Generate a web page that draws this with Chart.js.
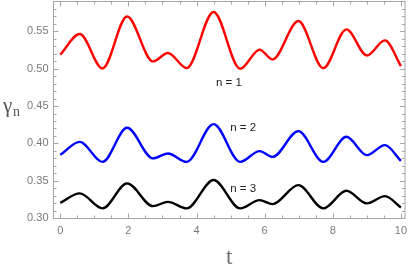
<!DOCTYPE html>
<html>
<head>
<meta charset="utf-8">
<script src="https://cdn.jsdelivr.net/npm/chart.js@4/dist/chart.umd.min.js"></script>
<style>
  html, body { margin: 0; padding: 0; background: #fff; }
  #wrap { width: 409px; height: 273px; position: relative; }
</style>
</head>
<body>
<div id="wrap"><canvas id="gamma-chart"></canvas></div>
<script>
// time knots (near the extrema of the curves)
const tValues = [0, 0.57, 1.24, 1.96, 2.72, 3.16, 3.71, 4.50, 5.28, 5.85, 6.23, 6.99, 7.72, 8.40, 9.00, 9.53, 10];

const gammaN1 = [0.5188, 0.5464, 0.5004, 0.5700, 0.5098, 0.5210, 0.5008, 0.5760, 0.5000, 0.5255, 0.5125, 0.5638, 0.5008, 0.5527, 0.5178, 0.5380, 0.5035];
const gammaN2 = [0.3847, 0.4021, 0.3753, 0.4209, 0.3800, 0.3866, 0.3753, 0.4259, 0.3753, 0.3897, 0.3820, 0.4165, 0.3753, 0.4089, 0.3843, 0.3977, 0.3767];
const gammaN3 = [0.3205, 0.3331, 0.3130, 0.3465, 0.3160, 0.3218, 0.3130, 0.3510, 0.3130, 0.3241, 0.3188, 0.3442, 0.3130, 0.3366, 0.3197, 0.3295, 0.3143];

const seriesLabels = ['n = 1', 'n = 2', 'n = 3'];
const seriesColors = ['#ff0000', '#0000ff', '#000000'];
// where each label sits, in data coordinates [t, gamma]
const labelAnchors = [[4.95, 0.4813], [5.37, 0.4210], [5.37, 0.3393]];

const xMajorTicks = [0, 2, 4, 6, 8, 10];
const xMinorTicks = [0.5, 1, 1.5, 2.5, 3, 3.5, 4.5, 5, 5.5, 6.5, 7, 7.5, 8.5, 9, 9.5];
const yMajorTicks = [0.30, 0.35, 0.40, 0.45, 0.50, 0.55];
const yMinorTicks = [0.31, 0.32, 0.33, 0.34, 0.36, 0.37, 0.38, 0.39, 0.41, 0.42, 0.43, 0.44,
                     0.46, 0.47, 0.48, 0.49, 0.51, 0.52, 0.53, 0.54, 0.56, 0.57, 0.58];

const frameColor = '#a6a6a6';
const tickTextColor = '#7a7a7a';

function toPoints(ys) {
    return tValues.map((t, i) => ({ x: t, y: ys[i] }));
}

const framePlugin = {
    id: 'frame',
    afterDatasetsDraw(chart) {
        const { ctx, chartArea: a, scales } = chart;
        const xs = scales.x, ys = scales.y;
        ctx.save();
        ctx.strokeStyle = frameColor;
        ctx.lineWidth = 1;
        ctx.strokeRect(a.left, a.top, a.right - a.left, a.bottom - a.top);

        ctx.beginPath();
        const xTick = (v, len) => {
            const px = Math.round(xs.getPixelForValue(v)) + 0.5;
            ctx.moveTo(px, a.bottom); ctx.lineTo(px, a.bottom - len);
            ctx.moveTo(px, a.top); ctx.lineTo(px, a.top + len);
        };
        const yTick = (v, len) => {
            const py = Math.round(ys.getPixelForValue(v)) + 0.5;
            ctx.moveTo(a.left, py); ctx.lineTo(a.left + len, py);
            ctx.moveTo(a.right, py); ctx.lineTo(a.right - len, py);
        };
        xMajorTicks.forEach(v => xTick(v, 5));
        xMinorTicks.forEach(v => xTick(v, 3));
        yMajorTicks.forEach(v => yTick(v, 5));
        yMinorTicks.forEach(v => yTick(v, 3));
        ctx.stroke();

        // curve labels
        ctx.fillStyle = '#222';
        ctx.font = '11.5px "Liberation Sans", Arial, sans-serif';
        ctx.textAlign = 'center';
        ctx.textBaseline = 'middle';
        seriesLabels.forEach((lab, i) => {
            const [t, g] = labelAnchors[i];
            ctx.fillText(lab, xs.getPixelForValue(t), ys.getPixelForValue(g));
        });

        // axis titles
        ctx.fillStyle = '#6e6e6e';
        ctx.font = '23px "Liberation Serif", "DejaVu Serif", serif';
        ctx.fillText('t', (a.left + a.right) / 2, 258);
        ctx.textAlign = 'left';
        ctx.fillStyle = '#555';
        ctx.font = '21px "Liberation Serif", "DejaVu Serif", serif';
        ctx.fillText('γ', 3, 106);
        ctx.font = '14px "Liberation Serif", "DejaVu Serif", serif';
        ctx.fillText('n', 13, 112);
        ctx.restore();
    }
};

const chart = new Chart(document.getElementById('gamma-chart').getContext('2d'), {
    type: 'line',
    data: {
        datasets: [gammaN1, gammaN2, gammaN3].map((ys, i) => ({
            label: seriesLabels[i],
            data: toPoints(ys),
            borderColor: seriesColors[i],
            borderWidth: 2.4,
            pointRadius: 0,
            fill: false,
            cubicInterpolationMode: 'monotone'
        }))
    },
    options: {
        responsive: true,
        maintainAspectRatio: false,
        animation: false,
        layout: { padding: { left: 0, right: 4, top: 1.5, bottom: 0 } },
        plugins: {
            legend: { display: false },
            tooltip: { enabled: false }
        },
        scales: {
            x: {
                type: 'linear',
                min: -0.2,
                max: 10.12,
                afterBuildTicks: s => { s.ticks = xMajorTicks.map(v => ({ value: v })); },
                afterFit: s => { s.height = 54.5; s.paddingLeft = 0; s.paddingRight = 0; },
                grid: { display: false, drawTicks: false },
                border: { display: false },
                ticks: {
                    padding: 6,
                    color: tickTextColor,
                    font: { family: '"Liberation Sans", Arial, sans-serif', size: 11 },
                    maxRotation: 0,
                    callback: v => String(v)
                }
            },
            y: {
                min: 0.2995,
                max: 0.590,
                afterBuildTicks: s => { s.ticks = yMajorTicks.map(v => ({ value: v })); },
                afterFit: s => { s.width = 53.5; s.paddingTop = 0; s.paddingBottom = 0; },
                grid: { display: false, drawTicks: false },
                border: { display: false },
                ticks: {
                    padding: 5,
                    color: tickTextColor,
                    font: { family: '"Liberation Sans", Arial, sans-serif', size: 11 },
                    callback: v => v.toFixed(2)
                }
            }
        }
    },
    plugins: [framePlugin]
});
</script>
</body>
</html>
